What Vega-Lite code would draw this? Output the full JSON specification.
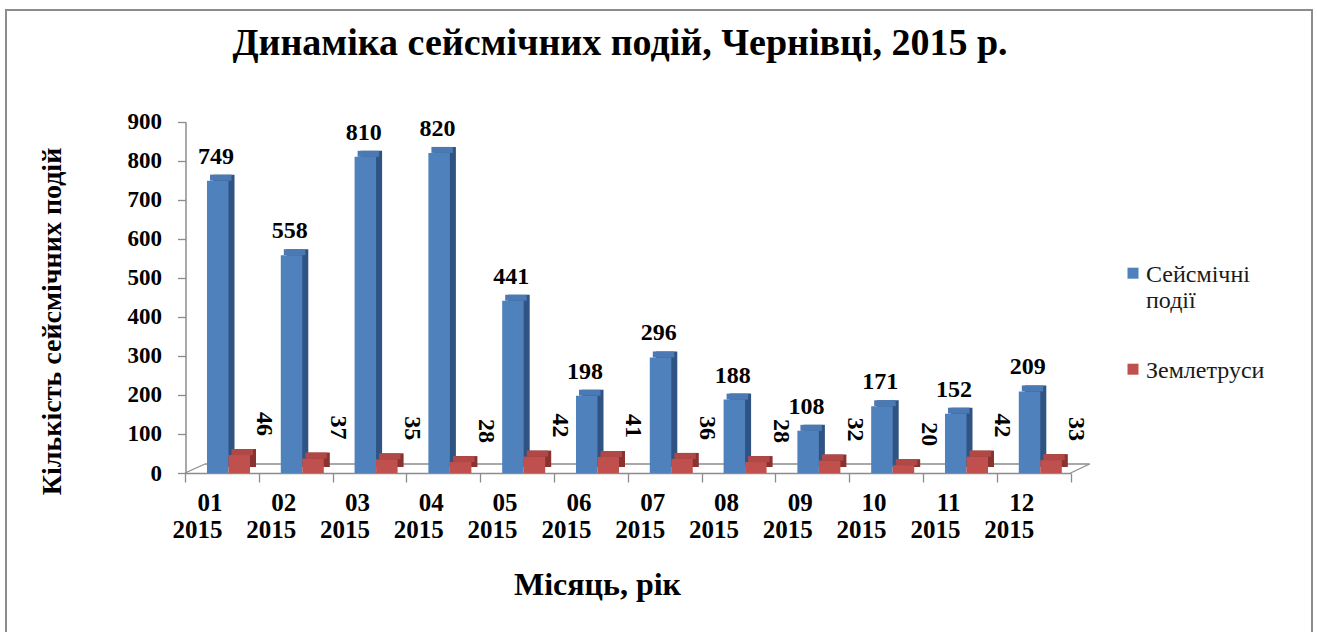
{
  "$schema": "https://vega.github.io/schema/vega-lite/v6.json",
  "width": 1306,
  "height": 625,
  "autosize": {"type": "none"},
  "padding": {"left": 6, "top": 10, "right": 5, "bottom": -3},
  "background": "white",
  "usermeta": {"embedOptions": {"actions": false}},
  "config": {"view": {"stroke": "#8c8c8c", "strokeWidth": 2}, "font": "Liberation Serif"},
  "title": {
    "text": "Динаміка сейсмічних подій, Чернівці, 2015 р.",
    "font": "Liberation Serif", "fontSize": 38, "fontWeight": "bold", "color": "#000000",
    "anchor": "middle", "offset": -83, "baseline": "alphabetic", "dx": -39
  },
  "datasets": {
    "bars": [
      {"month": "01 2015", "series": "Сейсмічні події", "value": 749},
      {"month": "02 2015", "series": "Сейсмічні події", "value": 558},
      {"month": "03 2015", "series": "Сейсмічні події", "value": 810},
      {"month": "04 2015", "series": "Сейсмічні події", "value": 820},
      {"month": "05 2015", "series": "Сейсмічні події", "value": 441},
      {"month": "06 2015", "series": "Сейсмічні події", "value": 198},
      {"month": "07 2015", "series": "Сейсмічні події", "value": 296},
      {"month": "08 2015", "series": "Сейсмічні події", "value": 188},
      {"month": "09 2015", "series": "Сейсмічні події", "value": 108},
      {"month": "10 2015", "series": "Сейсмічні події", "value": 171},
      {"month": "11 2015", "series": "Сейсмічні події", "value": 152},
      {"month": "12 2015", "series": "Сейсмічні події", "value": 209},
      {"month": "01 2015", "series": "Землетруси", "value": 46},
      {"month": "02 2015", "series": "Землетруси", "value": 37},
      {"month": "03 2015", "series": "Землетруси", "value": 35},
      {"month": "04 2015", "series": "Землетруси", "value": 28},
      {"month": "05 2015", "series": "Землетруси", "value": 42},
      {"month": "06 2015", "series": "Землетруси", "value": 41},
      {"month": "07 2015", "series": "Землетруси", "value": 36},
      {"month": "08 2015", "series": "Землетруси", "value": 28},
      {"month": "09 2015", "series": "Землетруси", "value": 32},
      {"month": "10 2015", "series": "Землетруси", "value": 20},
      {"month": "11 2015", "series": "Землетруси", "value": 42},
      {"month": "12 2015", "series": "Землетруси", "value": 33}
    ],
    "frame": [{"first": "01 2015", "last": "12 2015"}]
  },
  "layer": [
    {
      "data": {"name": "frame"},
      "mark": {"type": "rule", "color": "#8c8c8c", "strokeWidth": 1.3, "xOffset": 20, "x2Offset": 19},
      "encoding": {
        "x": {"field": "first", "type": "nominal", "bandPosition": 0},
        "x2": {"field": "last", "bandPosition": 1},
        "y": {"datum": 23, "type": "quantitative"}
      }
    },
    {
      "data": {"name": "frame"},
      "mark": {"type": "rule", "color": "#8c8c8c", "strokeWidth": 1.3, "x2Offset": 20},
      "encoding": {
        "x": {"field": "first", "type": "nominal", "bandPosition": 0},
        "x2": {"field": "first", "bandPosition": 0},
        "y": {"datum": 0, "type": "quantitative"},
        "y2": {"datum": 23}
      }
    },
    {
      "data": {"name": "frame"},
      "mark": {"type": "rule", "color": "#8c8c8c", "strokeWidth": 1.3, "x2Offset": 19},
      "encoding": {
        "x": {"field": "last", "type": "nominal", "bandPosition": 1},
        "x2": {"field": "last", "bandPosition": 1},
        "y": {"datum": 0, "type": "quantitative"},
        "y2": {"datum": 23}
      }
    },
    {
      "data": {"name": "bars"},
      "mark": {"type": "bar", "yOffset": -6, "y2Offset": -6},
      "encoding": {
        "x": {"field": "month", "type": "nominal"},
        "xOffset": {"field": "series", "type": "nominal",
          "scale": {"domain": ["Сейсмічні події", "Землетруси"], "paddingInner": 0, "paddingOuter": 0.716, "align": 0.909}},
        "y": {"field": "value", "type": "quantitative"},
        "y2": {"datum": 0},
        "color": {"field": "series", "type": "nominal", "legend": null,
          "scale": {"domain": ["Сейсмічні події", "Землетруси"], "range": ["#2f5382", "#8a3230"]}}
      }
    },
    {
      "data": {"name": "bars"},
      "mark": {"type": "bar", "yOffset": -6},
      "encoding": {
        "x": {"field": "month", "type": "nominal"},
        "xOffset": {"field": "series", "type": "nominal",
          "scale": {"domain": ["Сейсмічні події", "Землетруси"], "paddingInner": 0, "paddingOuter": 0.716, "align": 0.812}},
        "y": {"field": "value", "type": "quantitative"},
        "y2": {"field": "value"},
        "color": {"field": "series", "type": "nominal", "legend": null,
          "scale": {"domain": ["Сейсмічні події", "Землетруси"], "range": ["#4a79b3", "#b04845"]}}
      }
    },
    {
      "data": {"name": "bars"},
      "mark": {"type": "bar"},
      "encoding": {
        "x": {
          "field": "month", "type": "nominal", "title": "Місяць, рік",
          "scale": {"type": "band", "range": [179, 1064.6], "paddingInner": 0, "paddingOuter": 0},
          "axis": {
            "orient": "bottom", "offset": -162, "title": "Місяць, рік",
            "titleFont": "Liberation Serif", "titleFontSize": 32, "titleFontWeight": "bold", "titleColor": "#000000",
            "titleX": 591, "titlePadding": 27,
            "labelFont": "Liberation Serif", "labelFontSize": 25, "labelFontWeight": "bold", "labelColor": "#000000",
            "labelExpr": "split(datum.label, ' ')", "labelLineHeight": 27, "labelPadding": 20, "labelAngle": 0,
            "tickBand": "extent", "tickSize": 9, "tickColor": "#8c8c8c", "tickWidth": 1.3,
            "domain": true, "domainColor": "#8c8c8c", "domainWidth": 1.5, "grid": false
          }
        },
        "xOffset": {
          "field": "series", "type": "nominal",
          "scale": {"domain": ["Сейсмічні події", "Землетруси"], "paddingInner": 0, "paddingOuter": 0.716, "align": 0.714}
        },
        "y": {
          "field": "value", "type": "quantitative", "title": "Кількість сейсмічних подій",
          "scale": {"domain": [0, 900], "range": [463, 111.7], "nice": false, "zero": false},
          "axis": {
            "orient": "left", "offset": -179.5, "values": [0, 100, 200, 300, 400, 500, 600, 700, 800, 900],
            "title": "Кількість сейсмічних подій",
            "titleFont": "Liberation Serif", "titleFontSize": 28, "titleFontWeight": "bold", "titleColor": "#000000",
            "titlePadding": 61, "titleY": 311,
            "labelFont": "Liberation Serif", "labelFontSize": 23, "labelFontWeight": "bold", "labelColor": "#000000",
            "labelPadding": 16, "tickSize": 8, "tickColor": "#8c8c8c", "tickWidth": 1.3,
            "domain": true, "domainColor": "#8c8c8c", "domainWidth": 1.5, "grid": false
          }
        },
        "y2": {"datum": 0},
        "color": {
          "field": "series", "type": "nominal",
          "scale": {"domain": ["Сейсмічні події", "Землетруси"], "range": ["#4f81bd", "#c0504d"]},
          "legend": {
            "orient": "none", "legendX": 1115, "legendY": 260, "title": null, "direction": "vertical",
            "labelFont": "Liberation Serif", "labelFontSize": 24, "labelColor": "#1a1a1a",
            "labelExpr": "datum.label == 'Сейсмічні події' ? ['Сейсмічні', 'події'] : datum.label",
            "labelBaseline": "alphabetic", "labelLimit": 0, "labelOffset": 1,
            "symbolType": "M-1,-2.6H1V-0.6H-1Z", "symbolSize": 121, "symbolStrokeWidth": 0,
            "rowPadding": 46, "padding": 0
          }
        }
      }
    },
    {
      "data": {"name": "bars"},
      "transform": [{"filter": "datum.series == 'Сейсмічні події'"}],
      "mark": {"type": "text", "font": "Liberation Serif", "fontSize": 24, "fontWeight": "bold", "color": "#000000", "baseline": "alphabetic", "dy": -17},
      "encoding": {
        "x": {"field": "month", "type": "nominal"},
        "xOffset": {"field": "series", "type": "nominal",
          "scale": {"domain": ["Сейсмічні події", "Землетруси"], "paddingInner": 0, "paddingOuter": 0.716, "align": 0.714}},
        "y": {"field": "value", "type": "quantitative"},
        "text": {"field": "value", "type": "quantitative"}
      }
    },
    {
      "data": {"name": "bars"},
      "transform": [{"filter": "datum.series == 'Землетруси'"}],
      "mark": {"type": "text", "font": "Liberation Serif", "fontSize": 24, "fontWeight": "bold", "color": "#000000", "angle": 90, "align": "right", "baseline": "middle", "dx": -19, "dy": -18},
      "encoding": {
        "x": {"field": "month", "type": "nominal"},
        "xOffset": {"field": "series", "type": "nominal",
          "scale": {"domain": ["Сейсмічні події", "Землетруси"], "paddingInner": 0, "paddingOuter": 0.716, "align": 0.714}},
        "y": {"field": "value", "type": "quantitative"},
        "text": {"field": "value", "type": "quantitative"}
      }
    }
  ],
  "resolve": {"scale": {"color": "independent", "xOffset": "independent"}}
}
